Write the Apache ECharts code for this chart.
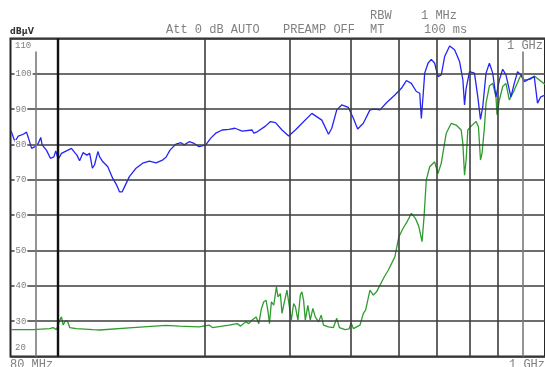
<!DOCTYPE html>
<html>
<head>
<meta charset="utf-8">
<script src="https://cdn.jsdelivr.net/npm/echarts@6/dist/echarts.min.js"></script>
<style>
  html, body { margin: 0; padding: 0; background: #fff; }
  #chart { width: 545px; height: 367px; }
</style>
</head>
<body>
<div id="chart"></div>
<script>
// Frequency span of the sweep (MHz) and level span (dBµV)
const freqMin = 80;
const freqMax = 1000;
const levelMin = 20;
const levelMax = 110;

// Vertical graticule frequencies (MHz)
const gridFreqs = [90, 100, 200, 300, 400, 500, 600, 700, 800, 900];

// Level tick labels drawn on the horizontal graticule
const levelLabels = [30, 40, 50, 60, 70, 80, 90, 100];

// Header / annotation texts
const headerTop = ['RBW', '1 MHz'];
const headerBottom = ['Att 0 dB AUTO', 'PREAMP OFF', 'MT', '100 ms'];
const unitLabel = 'dBµV';
const startLabel = '80 MHz';
const stopLabel = '1 GHz';

// Trace 1 (blue): frequency in MHz, level in dBµV
const blueFreq = [80.2, 81.7, 83.0, 85.0, 86.3, 87.0, 88.4, 89.8, 91.2, 92.3, 92.9, 94.8, 96.6, 98.2, 99.1,
  100.2, 101.8, 104.2, 106.7, 108.4, 109.5, 110.9, 112.7, 114.8, 116.3, 117.8, 119.0, 120.9, 121.9, 123.8,
  126.7, 129.7, 131.8, 133.9, 135.6, 137.1, 140.3, 144.8, 149.4, 154.2, 159.1, 164.1, 166.8, 170.0, 174.8,
  179.0, 181.8, 186.1, 190.5, 195.0, 201.3, 206.1, 211.0, 217.6, 224.6, 231.0, 239.1, 250.6, 252.6, 256.6,
  266.9, 273.3, 279.8, 288.6, 297.8, 307.4, 314.7, 332.3, 348.3, 359.5, 365.1, 373.8, 382.6, 394.9, 404.3,
  412.6, 423.8, 437.3, 447.7, 458.4, 472.8, 491.9, 507.4, 519.5, 531.8, 544.5, 553.3, 557.5, 561.9, 566.4,
  575.3, 584.3, 593.7, 603.0, 612.5, 622.4, 637.2, 652.3, 667.8, 678.3, 683.7, 688.9, 700.0, 716.6, 727.9,
  737.2, 745.2, 756.8, 769.0, 781.1, 793.2, 799.6, 806.1, 818.7, 831.5, 851.2, 864.9, 878.5, 892.3, 906.7,
  935.3, 950.4, 965.3, 980.4, 1000];
const blueLevel = [83.9, 80.8, 82.4, 82.9, 83.5, 82.0, 78.9, 79.4, 80.3, 82.0, 79.9, 78.4, 76.1, 76.5, 78.2,
  75.8, 77.5, 78.2, 78.9, 77.7, 77.0, 75.4, 77.7, 77.0, 77.5, 73.3, 74.2, 78.0, 76.5, 75.1,
  73.7, 70.4, 68.8, 66.6, 66.6, 68.0, 70.9, 73.3, 74.7, 75.3, 74.8, 75.6, 76.4, 78.4, 80.1,
  80.5, 79.9, 80.8, 80.3, 79.4, 79.9, 81.8, 83.2, 84.1, 84.3, 84.6, 83.8, 84.1, 83.2, 83.6,
  85.2, 86.5, 86.2, 84.1, 82.4, 84.1, 85.5, 88.8, 86.9, 82.9, 84.6, 89.8, 91.2, 90.5, 87.4,
  84.4, 86.0, 89.8, 90.0, 89.8, 91.8, 94.0, 95.9, 98.1, 97.3, 95.0, 94.5, 87.4, 93.5, 100.2,
  103.0, 104.1, 103.0, 99.2, 99.7, 104.9, 107.9, 106.8, 103.5, 98.3, 91.2, 95.9, 100.6, 100.2, 93.5,
  87.1, 90.7, 100.2, 103.0, 100.2, 93.5, 93.1, 98.3, 101.3, 99.7, 93.5, 97.3, 100.6, 99.7, 97.8,
  98.8, 99.2, 91.7, 93.5, 94.0];

// Trace 2 (green): frequency in MHz, level in dBµV
const greenFreq = [80.2, 89.0, 96.3, 97.8, 99.4, 101.0, 101.8, 102.6, 103.7, 104.7, 105.8, 109.2, 118.1, 121.9,
  142.5, 166.8, 177.6, 195.0, 204.5, 207.7, 224.6, 233.5, 237.3, 243.0, 246.7, 250.6, 255.4, 258.6, 261.9,
  264.8, 267.7, 270.2, 272.0, 274.5, 277.5, 281.1, 283.2, 286.4, 288.6, 292.3, 295.4, 297.8, 301.6, 304.9,
  307.4, 311.1, 314.7, 317.0, 319.6, 322.2, 326.1, 329.8, 333.9, 337.7, 343.0, 347.3, 351.1, 359.5, 368.0,
  373.8, 378.5, 388.8, 396.2, 400.0, 404.3, 417.2, 423.8, 428.4, 432.4, 437.3, 444.2, 451.1, 467.8, 476.7,
  491.9, 501.3, 511.5, 519.5, 531.8, 541.9, 550.7, 559.3, 564.6, 570.7, 580.0, 593.7, 603.0, 612.5, 627.1,
  642.0, 657.2, 672.9, 678.3, 683.7, 688.9, 694.4, 705.3, 722.0, 730.2, 737.2, 742.7, 751.2, 756.8, 769.0,
  781.1, 793.2, 797.0, 806.1, 818.7, 831.5, 844.8, 851.2, 864.9, 892.3, 906.7, 935.3, 950.4, 1000];
const greenLevel = [27.6, 27.6, 27.9, 28.2, 27.6, 30.3, 31.2, 28.9, 30.1, 30.1, 28.2, 27.9, 27.6, 27.5,
  28.2, 28.8, 28.6, 28.4, 28.9, 28.2, 28.9, 29.3, 28.6, 29.8, 29.3, 30.3, 31.2, 29.3, 33.6,
  35.5, 35.9, 32.6, 29.3, 35.5, 34.5, 39.7, 36.9, 37.8, 32.2, 35.9, 38.8, 35.5, 30.3, 35.0,
  34.1, 30.3, 37.4, 38.3, 35.9, 30.3, 34.5, 30.3, 33.6, 31.2, 29.8, 31.7, 28.9, 28.4, 28.2,
  30.8, 28.2, 27.6, 27.8, 29.5, 27.9, 28.9, 32.2, 33.1, 32.8, 38.8, 37.4, 38.3, 42.5, 44.4,
  48.2, 53.9, 56.3, 57.8, 60.5, 59.1, 56.9, 52.5, 59.5, 70.0, 73.7, 75.1, 71.8, 74.7, 83.2,
  86.0, 85.5, 84.1, 80.3, 71.3, 75.6, 84.1, 85.2, 86.5, 85.0, 75.6, 77.5, 85.0, 91.7, 96.6,
  97.3, 93.5, 88.4, 92.6, 96.4, 97.3, 92.6, 92.2, 95.4, 99.7, 98.3, 98.5, 99.4, 97.0];

const zip = (xs, ys) => xs.map((x, i) => [x, ys[i]]);

const monoFont = '"Liberation Mono", "DejaVu Sans Mono", monospace';
const textGray = '#808080';
const gridColor = '#3d3d3d';

// Vertical graticule: the 90 MHz and 900 MHz lines stop short of the top edge,
// leaving room for the corner annotations; 100 MHz is the heavy decade line.
const vLines = gridFreqs.map(f => {
  const short = (f === 90 || f === 900);
  const heavy = (f === 100);
  return [
    { coord: [f, levelMin], lineStyle: {
        color: heavy ? '#111' : (short ? '#7a7a7a' : gridColor),
        width: heavy ? 2.4 : 1.6, type: 'solid' } },
    { coord: [f, short ? 106.3 : levelMax] }
  ];
});

const chart = echarts.init(document.getElementById('chart'), null, { renderer: 'canvas' });

chart.setOption({
  animation: false,
  backgroundColor: '#fff',
  grid: {
    left: 10.5, top: 38.5, width: 537, height: 318,
    show: true, borderColor: '#262626', borderWidth: 2, backgroundColor: 'transparent'
  },
  xAxis: {
    type: 'log', logBase: 10, min: freqMin, max: freqMax,
    axisLine: { show: false }, axisTick: { show: false },
    axisLabel: { show: false }, splitLine: { show: false }
  },
  yAxis: {
    type: 'value', min: levelMin, max: levelMax, interval: 10,
    axisLine: { show: false }, axisTick: { show: false },
    splitLine: { show: true, lineStyle: { color: gridColor, width: 1.6 } },
    axisLabel: {
      inside: true, margin: 4, showMinLabel: false, showMaxLabel: false,
      fontFamily: monoFont, fontSize: 9, color: textGray,
      backgroundColor: '#fff', padding: [0, 1, 0, 1],
      formatter: v => (levelLabels.indexOf(v) >= 0 ? String(v) : '')
    },
    z: 5
  },
  series: [
    {
      type: 'line', data: [], silent: true, z: 1,
      markLine: {
        silent: true, symbol: 'none', animation: false,
        label: { show: false }, emphasis: { disabled: true },
        data: vLines
      }
    },
    {
      name: 'green', type: 'line', data: zip(greenFreq, greenLevel),
      showSymbol: false, smooth: false, z: 3,
      lineStyle: { color: '#2f9c2f', width: 1.3 }
    },
    {
      name: 'blue', type: 'line', data: zip(blueFreq, blueLevel),
      showSymbol: false, smooth: false, z: 4,
      lineStyle: { color: '#2424f5', width: 1.3 }
    }
  ],
  graphic: [
    { type: 'text', left: 10, top: 28, z: 10,
      style: { text: unitLabel, font: 'bold 8px "DejaVu Sans", sans-serif', fill: '#333' } },
    { type: 'text', left: 370, top: 10, z: 10,
      style: { text: headerTop[0], font: '12px ' + monoFont, fill: textGray } },
    { type: 'text', left: 421, top: 10, z: 10,
      style: { text: headerTop[1], font: '12px ' + monoFont, fill: textGray } },
    { type: 'text', left: 166, top: 23.5, z: 10,
      style: { text: headerBottom[0], font: '12px ' + monoFont, fill: textGray } },
    { type: 'text', left: 283, top: 23.5, z: 10,
      style: { text: headerBottom[1], font: '12px ' + monoFont, fill: textGray } },
    { type: 'text', left: 370, top: 23.5, z: 10,
      style: { text: headerBottom[2], font: '12px ' + monoFont, fill: textGray } },
    { type: 'text', left: 424, top: 23.5, z: 10,
      style: { text: headerBottom[3], font: '12px ' + monoFont, fill: textGray } },
    { type: 'text', left: 507, top: 40, z: 10,
      style: { text: stopLabel, font: '12px ' + monoFont, fill: textGray } },
    { type: 'text', left: 15, top: 41.5, z: 10,
      style: { text: String(levelMax), font: '9px ' + monoFont, fill: textGray } },
    { type: 'text', left: 15, top: 343.5, z: 10,
      style: { text: String(levelMin), font: '9px ' + monoFont, fill: textGray } },
    { type: 'text', left: 10, top: 359, z: 10,
      style: { text: startLabel, font: '12px ' + monoFont, fill: textGray } },
    { type: 'text', left: 509, top: 359, z: 10,
      style: { text: stopLabel, font: '12px ' + monoFont, fill: textGray } }
  ]
});
</script>
</body>
</html>
